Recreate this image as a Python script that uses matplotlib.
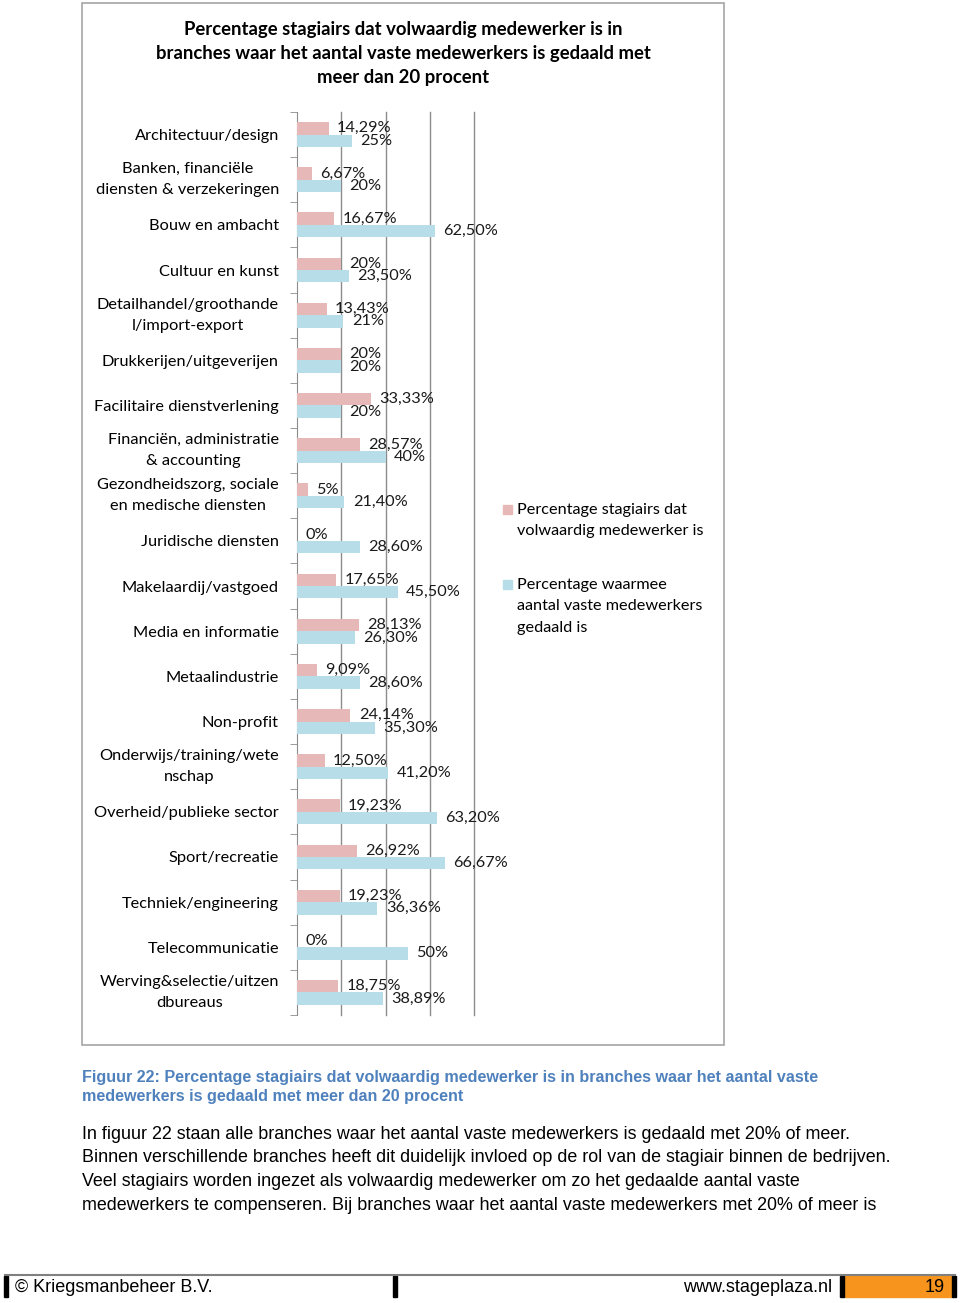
import matplotlib
matplotlib.use("Agg")
import matplotlib.pyplot as plt
from matplotlib.patches import Rectangle
from matplotlib.lines import Line2D
import numpy as np

W, H = 960, 1303

branches = ['Architectuur/design', 'Banken, financiële\ndiensten & verzekeringen', 'Bouw en ambacht',
            'Cultuur en kunst', 'Detailhandel/groothande\nl/import-export', 'Drukkerijen/uitgeverijen',
            'Facilitaire dienstverlening', 'Financiën, administratie\n& accounting',
            'Gezondheidszorg, sociale\nen medische diensten', 'Juridische diensten',
            'Makelaardij/vastgoed', 'Media en informatie', 'Metaalindustrie', 'Non-profit',
            'Onderwijs/training/wete\nnschap', 'Overheid/publieke sector', 'Sport/recreatie',
            'Techniek/engineering', 'Telecommunicatie', 'Werving&selectie/uitzen\ndbureaus']
stagiairs = [14.29, 6.67, 16.67, 20, 13.43, 20, 33.33, 28.57, 5, 0,
             17.65, 28.13, 9.09, 24.14, 12.50, 19.23, 26.92, 19.23, 0, 18.75]
gedaald = [25, 20, 62.5, 23.5, 21, 20, 20, 40, 21.4, 28.6,
           45.5, 26.3, 28.6, 35.3, 41.2, 63.2, 66.67, 36.36, 50, 38.89]
legenda = ['Percentage stagiairs dat\nvolwaardig medewerker is',
           'Percentage waarmee\naantal vaste medewerkers\ngedaald is']

kleur_roze = '#E6B9B8'
kleur_blauw = '#B7DDE8'
font_chart = 'Lato'
font_tekst = ['Liberation Sans Narrow', 'Liberation Sans']


def fx(px):
    return px / W


def fy(py):
    return 1 - py / H


def label(v):
    if float(v).is_integer():
        return f"{int(v)}%"
    return f"{v:.2f}".replace('.', ',') + '%'


fig = plt.figure(figsize=(W / 100, H / 100), dpi=100)
fig.patch.set_facecolor('white')

# kader om de grafiek
fig.patches.append(Rectangle((fx(82), fy(1045)), fx(724) - fx(82), fy(3) - fy(1045),
                             transform=fig.transFigure, fill=False, edgecolor='#A6A6A6', lw=1.2))

ax = fig.add_axes([fx(297), fy(1015), fx(474) - fx(297), fy(112) - fy(1015)])
y = np.arange(len(branches))
h = 0.275
ax.barh(y - h / 2, stagiairs, height=h, color=kleur_roze, zorder=3)
ax.barh(y + h / 2, gedaald, height=h, color=kleur_blauw, zorder=3)

for i in range(len(branches)):
    ax.annotate(label(stagiairs[i]), (stagiairs[i], y[i] - h / 2), xytext=(6, 0), textcoords='offset points',
                va='center', ha='left', fontsize=11.7, family=font_chart, color='#1a1a1a', zorder=4)
    ax.annotate(label(gedaald[i]), (gedaald[i], y[i] + h / 2), xytext=(6, 0), textcoords='offset points',
                va='center', ha='left', fontsize=11.7, family=font_chart, color='#1a1a1a', zorder=4)

ax.set_xlim(0, 80)
ax.set_ylim(len(branches) - 0.5, -0.5)
ax.set_xticks([20, 40, 60, 80])
ax.xaxis.grid(True, color='#8C8C8C', lw=1)
for gl in ax.get_xgridlines():
    gl.set_clip_on(False)
ax.tick_params(axis='x', length=0, labelbottom=False)
ax.set_yticks(y)
ax.set_yticklabels(branches, fontsize=11.8, family=font_chart, ha='right', multialignment='center',
                   linespacing=1.65)
for t in ax.get_yticklabels():
    if '\n' in t.get_text():
        t.set_va('center')
ax.set_yticks(np.arange(len(branches) + 1) - 0.5, minor=True)
ax.tick_params(axis='y', which='major', length=0, pad=13)
ax.tick_params(axis='y', which='minor', length=5, color='#8C8C8C', direction='out')
for s in ['top', 'right', 'bottom']:
    ax.spines[s].set_visible(False)
ax.spines['left'].set_color('#8C8C8C')
ax.set_axisbelow(True)

fig.text(fx(403), fy(53), 'Percentage stagiairs dat volwaardig medewerker is in\n'
         'branches waar het aantal vaste medewerkers is gedaald met\nmeer dan 20 procent',
         ha='center', va='center', fontsize=13.3, fontweight='bold', family=font_chart, linespacing=1.5)

# legenda
for tekst, kleur, ytop in zip(legenda, [kleur_roze, kleur_blauw], [509, 584]):
    fig.patches.append(Rectangle((fx(503), fy(ytop + 5)), fx(9), 9 / H, transform=fig.transFigure,
                                 color=kleur))
    fig.text(fx(517), fy(ytop - 6), tekst, ha='left', va='top', fontsize=11.7, family=font_chart,
             linespacing=1.68)

fig.text(fx(82), fy(1070), 'Figuur 22: Percentage stagiairs dat volwaardig medewerker is in branches waar het aantal vaste\n'
         'medewerkers is gedaald met meer dan 20 procent', ha='left', va='top', fontsize=11.6,
         fontweight='bold', color='#4F81BD', family=font_tekst, linespacing=1.32)

fig.text(fx(82), fy(1126), 'In figuur 22 staan alle branches waar het aantal vaste medewerkers is gedaald met 20% of meer.\n'
         'Binnen verschillende branches heeft dit duidelijk invloed op de rol van de stagiair binnen de bedrijven.\n'
         'Veel stagiairs worden ingezet als volwaardig medewerker om zo het gedaalde aantal vaste\n'
         'medewerkers te compenseren. Bij branches waar het aantal vaste medewerkers met 20% of meer is',
         ha='left', va='top', fontsize=12.9, family=font_tekst, linespacing=1.5)

# voettekst
fig.add_artist(Line2D([fx(5), fx(955)], [fy(1275), fy(1275)], color='#808080', lw=1.5))
fig.patches.append(Rectangle((fx(844), fy(1297)), fx(952) - fx(844), 21 / H, transform=fig.transFigure,
                             color='#F7941D'))
for xb in [4, 393, 840, 952]:
    fig.patches.append(Rectangle((fx(xb), fy(1297)), fx(4), 21 / H, transform=fig.transFigure,
                                 color='black'))
fig.text(fx(15), fy(1288), '© Kriegsmanbeheer B.V.', ha='left', va='center', fontsize=13,
         family=font_tekst)
fig.text(fx(832), fy(1288), 'www.stageplaza.nl', ha='right', va='center', fontsize=13, family=font_tekst)
fig.text(fx(945), fy(1288), '19', ha='right', va='center', fontsize=13, family=font_tekst)

fig.savefig('out.png', dpi=100)
